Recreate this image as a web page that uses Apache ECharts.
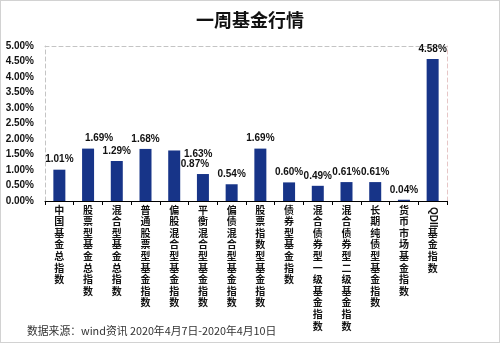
<!DOCTYPE html>
<html>
<head>
<meta charset="utf-8">
<script src="https://cdn.jsdelivr.net/npm/echarts@6/dist/echarts.min.js"></script>
<style>
  html, body { margin: 0; padding: 0; background: #fff; }
  #frame { position: relative; width: 500px; height: 343px; box-sizing: border-box; border: 1px solid #d2d2d2; overflow: hidden; }
  #chart { position: absolute; left: -1px; top: -1px; width: 500px; height: 343px; }
</style>
</head>
<body>
<div id="frame"><div id="chart"></div></div>
<script>
// Weekly fund index returns, in percent
const titleText = '一周基金行情';
const sourceText = '数据来源：wind资讯 2020年4月7日-2020年4月10日';

const categories = [
  '中国基金总指数',
  '股票型基金总指数',
  '混合型基金总指数',
  '普通股票型基金指数',
  '偏股混合型基金指数',
  '平衡混合型基金指数',
  '偏债混合型基金指数',
  '股票指数型基金指数',
  '债券型基金指数',
  '混合债券型一级基金指数',
  '混合债券型二级基金指数',
  '长期纯债型基金指数',
  '货币市场基金指数',
  'QDII基金指数'
];
const weeklyReturns = [1.01, 1.69, 1.29, 1.68, 1.63, 0.87, 0.54, 1.69, 0.60, 0.49, 0.61, 0.61, 0.04, 4.58];

const yMin = 0;
const yMax = 5;
const yStep = 0.5;

// Small nudges for a few crowded value labels (pixels, [dx, dy])
const labelNudge = { 1: [11, 0], 4: [24, 14], 5: [-8, 0] };

const BAR_COLOR = '#173488';
const TEXT_COLOR = '#111';
const LATIN_FONT = '"Liberation Sans", Arial, sans-serif';
const CJK_FONT = '"Noto Sans CJK SC", sans-serif';

// Latin prefixes (e.g. QDII) are set sideways, CJK characters stacked vertically
function splitName(name) {
  const m = name.match(/^[A-Za-z]+/);
  return m ? { latin: m[0], rest: name.slice(m[0].length) } : { latin: '', rest: name };
}

const chart = echarts.init(document.getElementById('chart'), null, { renderer: 'canvas' });

const barData = weeklyReturns.map((v, i) => {
  const item = { value: v };
  if (labelNudge[i]) item.label = { offset: labelNudge[i] };
  return item;
});

chart.setOption({
  backgroundColor: 'transparent',
  animation: false,
  title: {
    text: titleText,
    left: 'center',
    top: 6,
    textStyle: { fontFamily: CJK_FONT, fontSize: 18, fontWeight: 'bold', color: '#111' }
  },
  graphic: [{
    type: 'text',
    left: 27,
    top: 326,
    style: { text: sourceText, font: '10.8px ' + CJK_FONT, fill: '#333' }
  }],
  grid: { left: 45, right: 53, top: 46, bottom: 142, containLabel: false },
  xAxis: [
    {
      type: 'category',
      data: categories,
      position: 'bottom',
      boundaryGap: true,
      axisLine: { show: true, onZero: false, lineStyle: { color: '#000', width: 1 } },
      axisTick: { show: true, length: 4, lineStyle: { color: '#000' } },
      axisLabel: {
        interval: 0,
        margin: 3,
        color: TEXT_COLOR,
        fontFamily: CJK_FONT,
        fontWeight: 'bold',
        fontSize: 10,
        lineHeight: 11.6,
        formatter: (v) => {
          const p = splitName(v);
          const pad = p.latin ? '\n\n' : '';
          return pad + p.rest.split('').join('\n');
        }
      },
      splitLine: { show: false }
    },
    {
      type: 'category',
      data: categories,
      position: 'bottom',
      axisLine: { show: false },
      axisTick: { show: false },
      axisLabel: {
        interval: 0,
        rotate: -90,
        margin: 6,
        color: TEXT_COLOR,
        fontFamily: LATIN_FONT,
        fontWeight: 'bold',
        fontSize: 10,
        formatter: (v) => splitName(v).latin
      },
      splitLine: { show: false }
    },
    {
      type: 'category',
      data: categories,
      position: 'top',
      axisLine: { show: true, onZero: false, lineStyle: { color: '#c4c4c4', type: [4, 3] } },
      axisTick: { show: false },
      axisLabel: { show: false },
      splitLine: { show: false }
    }
  ],
  yAxis: [
    {
      type: 'value',
      min: yMin,
      max: yMax,
      interval: yStep,
      position: 'left',
      axisLine: { show: true, lineStyle: { color: '#c4c4c4', type: [4, 3] } },
      axisTick: { show: false },
      splitLine: { show: false },
      axisLabel: {
        margin: 11,
        color: TEXT_COLOR,
        fontFamily: LATIN_FONT,
        fontSize: 10,
        fontWeight: 'bold',
        formatter: (v) => v.toFixed(2) + '%'
      }
    },
    {
      type: 'value',
      min: yMin,
      max: yMax,
      interval: yStep,
      position: 'right',
      axisLine: { show: true, lineStyle: { color: '#e6c6c6', type: [4, 3] } },
      axisTick: { show: false },
      splitLine: { show: false },
      axisLabel: { show: false }
    }
  ],
  series: [{
    type: 'bar',
    xAxisIndex: 0,
    yAxisIndex: 0,
    data: barData,
    barWidth: 12,
    itemStyle: { color: BAR_COLOR },
    label: {
      show: true,
      position: 'top',
      distance: 5,
      color: TEXT_COLOR,
      fontFamily: LATIN_FONT,
      fontSize: 10,
      fontWeight: 'bold',
      formatter: (p) => p.value.toFixed(2) + '%'
    }
  }]
});
</script>
</body>
</html>
